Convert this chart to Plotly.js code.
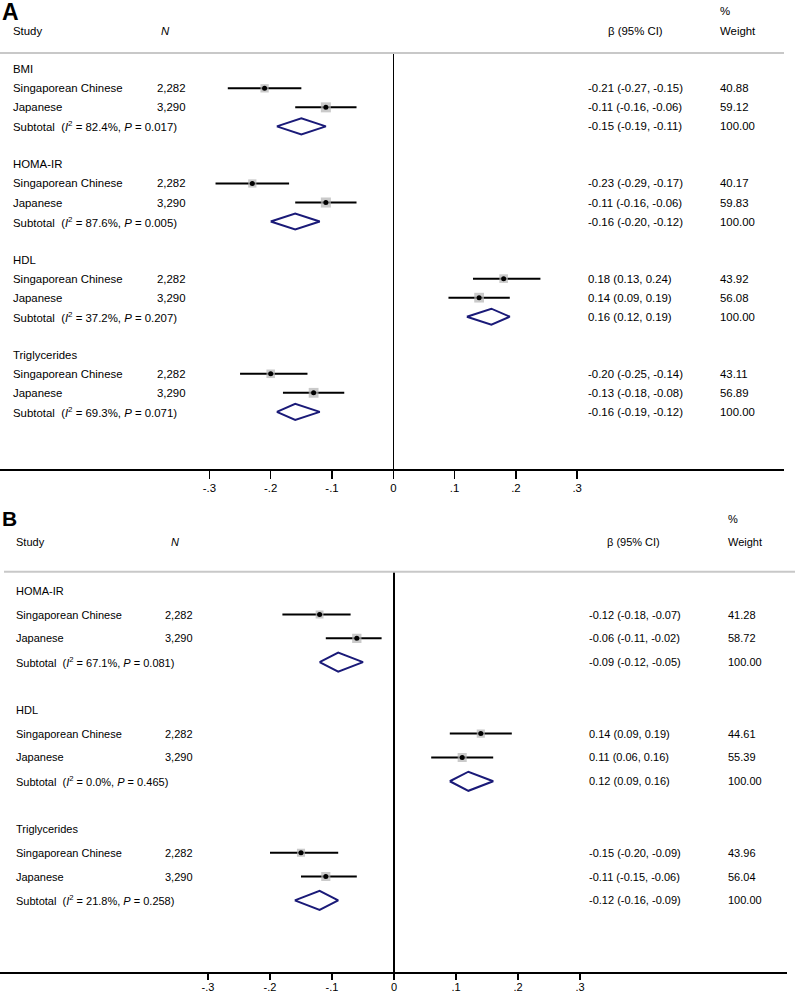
<!DOCTYPE html>
<html><head><meta charset="utf-8">
<script src="https://cdn.plot.ly/plotly-3.0.1.min.js"></script>
<style>html,body{margin:0;padding:0;background:#fff}</style>
</head><body><div id="chart" style="width:797px;height:995px"></div>
<script>
// ---------- Panel A data ----------
const groupsA = ['BMI','HOMA-IR','HDL','Triglycerides'];
const studyNames = ['Singaporean Chinese','Japanese'];
const studyN = ['2,282','3,290'];
const estA = [-0.21,-0.11,-0.23,-0.11,0.18,0.14,-0.20,-0.13];
const loA  = [-0.27,-0.16,-0.29,-0.16,0.13,0.09,-0.25,-0.18];
const hiA  = [-0.15,-0.06,-0.17,-0.06,0.24,0.19,-0.14,-0.08];
const wA   = [40.88,59.12,40.17,59.83,43.92,56.08,43.11,56.89];
const subEstA = [-0.15,-0.16,0.16,-0.16];
const subLoA  = [-0.19,-0.20,0.12,-0.19];
const subHiA  = [-0.11,-0.12,0.19,-0.12];
const i2A = ['82.4','87.6','37.2','69.3'];
const pA  = ['0.017','0.005','0.207','0.071'];

// ---------- Panel B data ----------
const groupsB = ['HOMA-IR','HDL','Triglycerides'];
const estB = [-0.12,-0.06,0.14,0.11,-0.15,-0.11];
const loB  = [-0.18,-0.11,0.09,0.06,-0.20,-0.15];
const hiB  = [-0.07,-0.02,0.19,0.16,-0.09,-0.06];
const wB   = [41.28,58.72,44.61,55.39,43.96,56.04];
const subEstB = [-0.09,0.12,-0.12];
const subLoB  = [-0.12,0.09,-0.16];
const subHiB  = [-0.05,0.16,-0.09];
const i2B = ['67.1','0.0','21.8'];
const pB  = ['0.081','0.465','0.258'];

const tickVals = [-0.3,-0.2,-0.1,0,0.1,0.2,0.3];
const tickText = ['-.3','-.2','-.1','0','.1','.2','.3'];

// ---------- helpers ----------
const W = 797, H = 995;
const FONT = 'Arial, "Liberation Sans", Helvetica, sans-serif';
const px = x => x / W;
const py = y => 1 - y / H;
const fmt = v => v.toFixed(2);
const NB = '\u00a0';

const traces = [];
const annotations = [];
const shapes = [];

function panel(c) {
  const ciX = [], ciY = [], sqX = [], sqY = [], sqS = [], dX = [], dY = [];
  const diaX = [], diaY = [];
  const f = {family: FONT, size: c.fs, color: '#000'};
  const txt = (x, y, text, anchor) => annotations.push({
    xref: 'paper', x: px(x), yref: c.ya, y: y, text: text, showarrow: false,
    xanchor: anchor || 'left', yanchor: 'middle', font: f, borderpad: 0
  });
  c.groups.forEach((g, gi) => {
    const r0 = gi * 5;
    txt(c.colLabel, r0, g);
    for (let s = 0; s < 2; s++) {
      const k = gi * 2 + s, r = r0 + 1 + s;
      ciX.push(c.lo[k], c.hi[k], null); ciY.push(r, r, null);
      sqX.push(c.est[k]); sqY.push(r); sqS.push(c.sqK * Math.sqrt(c.w[k]));
      dX.push(c.est[k]); dY.push(r);
      txt(c.colLabel, r, studyNames[s]);
      txt(c.colN, r, studyN[s], 'right');
      txt(c.colVal, r, fmt(c.est[k]) + ' (' + fmt(c.lo[k]) + ', ' + fmt(c.hi[k]) + ')');
      txt(c.colW, r, c.w[k].toFixed(2));
    }
    const rs = r0 + 3;
    diaX.push(c.subLo[gi], c.subEst[gi], c.subHi[gi], c.subEst[gi], c.subLo[gi], null);
    diaY.push(rs, rs - c.dh, rs, rs + c.dh, rs, null);
    txt(c.colLabel, rs, 'Subtotal' + NB + NB + '(<i>I</i><sup>2</sup> = ' + c.i2[gi] + '%, <i>P</i> = ' + c.p[gi] + ')');
    txt(c.colVal, rs, fmt(c.subEst[gi]) + ' (' + fmt(c.subLo[gi]) + ', ' + fmt(c.subHi[gi]) + ')');
    txt(c.colW, rs, '100.00');
  });
  const ax = {xaxis: c.xa, yaxis: c.ya, hoverinfo: 'skip', showlegend: false};
  traces.push(Object.assign({x: ciX, y: ciY, mode: 'lines', line: {color: '#000', width: 2}}, ax));
  traces.push(Object.assign({x: sqX, y: sqY, mode: 'markers', marker: {symbol: 'square', size: sqS, color: '#b4b4b4', line: {width: 0}}}, ax));
  traces.push(Object.assign({x: dX, y: dY, mode: 'markers', marker: {symbol: 'circle', size: 5, color: '#000', line: {width: 0}}}, ax));
  traces.push(Object.assign({x: diaX, y: diaY, mode: 'lines', line: {color: '#1a1a78', width: 2}}, ax));

  // headers
  const hf = {family: FONT, size: c.fs, color: '#000'};
  const htxt = (x, y, text, extra) => annotations.push(Object.assign({
    xref: 'paper', x: px(x), yref: 'paper', y: py(y), text: text, showarrow: false,
    xanchor: 'left', yanchor: 'middle', font: hf, borderpad: 0
  }, extra || {}));
  htxt(c.letterX, c.letterY, '<b>' + c.letter + '</b>', {font: {family: FONT, size: c.letterSize, color: '#000'}});
  htxt(c.colLabel, c.headY, 'Study');
  htxt(c.colNHead, c.headY, '<i>N</i>');
  htxt(c.colBeta, c.headY, '\u03b2 (95% CI)');
  htxt(c.colW, c.pctY, '%');
  htxt(c.colW, c.headY, 'Weight');
  shapes.push({type: 'line', xref: 'paper', yref: 'paper', x0: px(c.grayX0), x1: px(c.grayX1),
    y0: py(c.grayY), y1: py(c.grayY), line: {color: '#c8c8c8', width: 2}});
}

panel({
  letter: 'A', letterX: 1, letterY: 12, letterSize: 23,
  groups: groupsA, est: estA, lo: loA, hi: hiA, w: wA,
  subEst: subEstA, subLo: subLoA, subHi: subHiA, i2: i2A, p: pA,
  xa: 'x', ya: 'y', fs: 11.4, sqK: 1.3, dh: 0.42,
  colLabel: 12, colN: 187, colNHead: 160, colVal: 587, colBeta: 607, colW: 719,
  headY: 31, pctY: 11, grayY: 53, grayX0: 0, grayX1: 784
});
panel({
  letter: 'B', letterX: 1, letterY: 518, letterSize: 21,
  groups: groupsB, est: estB, lo: loB, hi: hiB, w: wB,
  subEst: subEstB, subLo: subLoB, subHi: subHiB, i2: i2B, p: pB,
  xa: 'x2', ya: 'y2', fs: 11, sqK: 1.22, dh: 0.4,
  colLabel: 14.7, colN: 194.3, colNHead: 170, colVal: 588, colBeta: 606, colW: 727,
  headY: 542, pctY: 519, grayY: 571.7, grayX0: 4, grayX1: 795
});

// axis geometry (pixel anchors from the reference)
const xAxisCommon = {
  showline: true, linecolor: '#000', linewidth: 1.8, mirror: false,
  ticks: 'outside', tickwidth: 1.5, tickcolor: '#000',
  tickmode: 'array', tickvals: tickVals, ticktext: tickText,
  showgrid: false, zeroline: true, zerolinecolor: '#000', zerolinewidth: 1.5,
  fixedrange: true, automargin: false
};
const zeroA = 393.3, scaleA = 613;   // px per unit
const zeroB = 394, scaleB = 620;
const rowA0 = 69.3, rowAStep = 19.03, topA = 53, botA = 469;
const rowB0 = 590.7, rowBStep = 23.82, topB = 571.7, botB = 972.3;

const layout = {
  width: W, height: H, margin: {l: 0, r: 0, t: 0, b: 0},
  paper_bgcolor: '#fff', plot_bgcolor: '#fff', showlegend: false,
  font: {family: FONT, color: '#000'},
  xaxis: Object.assign({}, xAxisCommon, {
    domain: [0, 784 / W], anchor: 'y', ticklen: 8,
    range: [(0 - zeroA) / scaleA, (784 - zeroA) / scaleA],
    tickfont: {family: FONT, size: 11.4, color: '#000'}
  }),
  yaxis: {
    domain: [py(botA), py(topA)], anchor: 'x', visible: false, fixedrange: true,
    range: [(botA - rowA0) / rowAStep, (topA - rowA0) / rowAStep]
  },
  xaxis2: Object.assign({}, xAxisCommon, {
    domain: [0, 787 / W], anchor: 'y2', ticklen: 6, ticklabelstandoff: -2,
    range: [(0 - zeroB) / scaleB, (787 - zeroB) / scaleB],
    tickfont: {family: FONT, size: 11, color: '#000'}
  }),
  yaxis2: {
    domain: [py(botB), py(topB)], anchor: 'x2', visible: false, fixedrange: true,
    range: [(botB - rowB0) / rowBStep, (topB - rowB0) / rowBStep]
  },
  annotations: annotations,
  shapes: shapes
};

Plotly.newPlot('chart', traces, layout, {staticPlot: true, displayModeBar: false});
</script>
</body></html>
